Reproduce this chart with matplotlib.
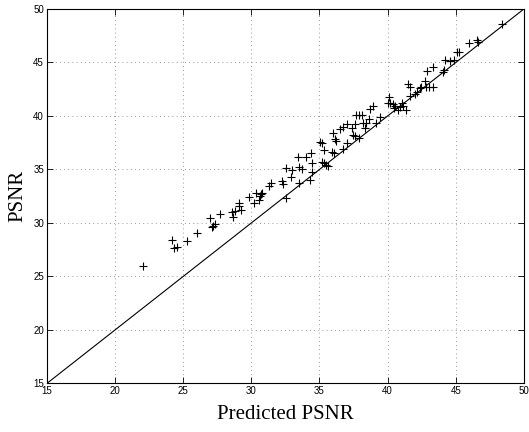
import matplotlib
matplotlib.use("Agg")
import matplotlib.pyplot as plt
import numpy as np

predicted_psnr = [
    22.07, 24.19, 24.30, 24.52, 25.29, 25.98, 26.98, 27.08, 27.20, 27.32,
    27.69, 28.62, 28.77, 28.66, 29.08, 29.10, 29.21, 29.84, 30.20, 30.33,
    30.57, 30.62, 30.69, 30.77, 31.28, 31.48, 32.23, 32.33, 32.55, 32.58,
    32.89, 32.99, 33.48, 33.43, 33.50, 33.75, 33.99, 34.33, 34.43, 34.41,
    34.48, 35.01, 35.16, 35.18, 35.33, 35.33, 35.45, 35.65, 35.94, 36.06,
    35.99, 36.11, 36.19, 36.48, 36.72, 37.04, 37.01, 37.36, 37.45, 37.60,
    37.70, 36.72, 37.63, 37.89, 37.89, 38.14, 38.19, 38.31, 38.44, 38.63,
    38.73, 38.92, 39.12, 39.41, 40.09, 40.02, 40.19, 40.38, 40.44, 40.53,
    40.75, 40.88, 41.02, 41.12, 41.37, 41.48, 41.61, 41.61, 41.98, 42.17,
    42.34, 42.47, 42.71, 42.83, 43.02, 43.31, 42.90, 43.32, 44.05, 44.17,
    44.22, 44.61, 44.85, 45.22, 45.10, 46.00, 46.54, 46.61, 48.37,
]
psnr = [
    26.01, 28.38, 27.64, 27.73, 28.32, 29.04, 30.44, 29.60, 29.75, 29.88,
    30.81, 31.03, 31.12, 30.59, 31.90, 31.59, 31.21, 32.46, 31.90, 32.83,
    32.15, 32.52, 32.68, 32.78, 33.46, 33.77, 33.93, 33.62, 32.31, 35.11,
    34.33, 34.95, 33.71, 36.20, 35.26, 35.02, 36.14, 34.02, 34.74, 36.57,
    35.58, 37.57, 37.45, 35.73, 35.58, 36.82, 35.42, 35.36, 36.66, 36.51,
    38.38, 37.82, 37.66, 38.76, 38.94, 37.45, 39.22, 38.85, 38.22, 39.22,
    40.09, 36.89, 38.13, 37.92, 40.09, 40.12, 39.32, 38.85, 39.32, 39.69,
    40.63, 40.93, 39.37, 39.88, 41.75, 41.19, 41.24, 41.12, 40.72, 40.93,
    40.56, 40.87, 41.19, 40.93, 40.56, 42.96, 42.74, 41.90, 42.03, 42.27,
    42.64, 42.74, 43.27, 42.74, 42.74, 42.74, 44.21, 44.61, 44.14, 44.30,
    45.23, 45.14, 45.23, 45.95, 45.98, 46.79, 47.10, 46.94, 48.57,
]
axis_range = [15, 50]
ticks = [15, 20, 25, 30, 35, 40, 45, 50]

fig = plt.figure(figsize=(5.29, 4.32), dpi=100)
ax = fig.add_axes([0.0885, 0.1123, 0.902, 0.867])

ax.plot(axis_range, axis_range, color="black", linewidth=0.8)
ax.plot(predicted_psnr, psnr, linestyle="none", marker="+", color="black",
        markersize=6, markeredgewidth=0.8)

ax.set_xlim(axis_range)
ax.set_ylim(axis_range)
ax.set_xticks(ticks)
ax.set_yticks(ticks)
ax.grid(True, linestyle=(0, (1, 4)), color="#777777", linewidth=0.6)
ax.tick_params(direction="in", top=True, right=True, length=4, width=0.6,
               labelsize=7, pad=2)
for lab in ax.get_xticklabels() + ax.get_yticklabels():
    lab.set_family(["Liberation Sans", "DejaVu Sans"])
for s in ax.spines.values():
    s.set_linewidth(0.8)

ax.set_xlabel("Predicted PSNR", fontsize=15, family=["Liberation Serif", "DejaVu Serif"], labelpad=6)
ax.set_ylabel("PSNR", fontsize=15, family=["Liberation Serif", "DejaVu Serif"], labelpad=4)

fig.savefig("out.png", dpi=100)
